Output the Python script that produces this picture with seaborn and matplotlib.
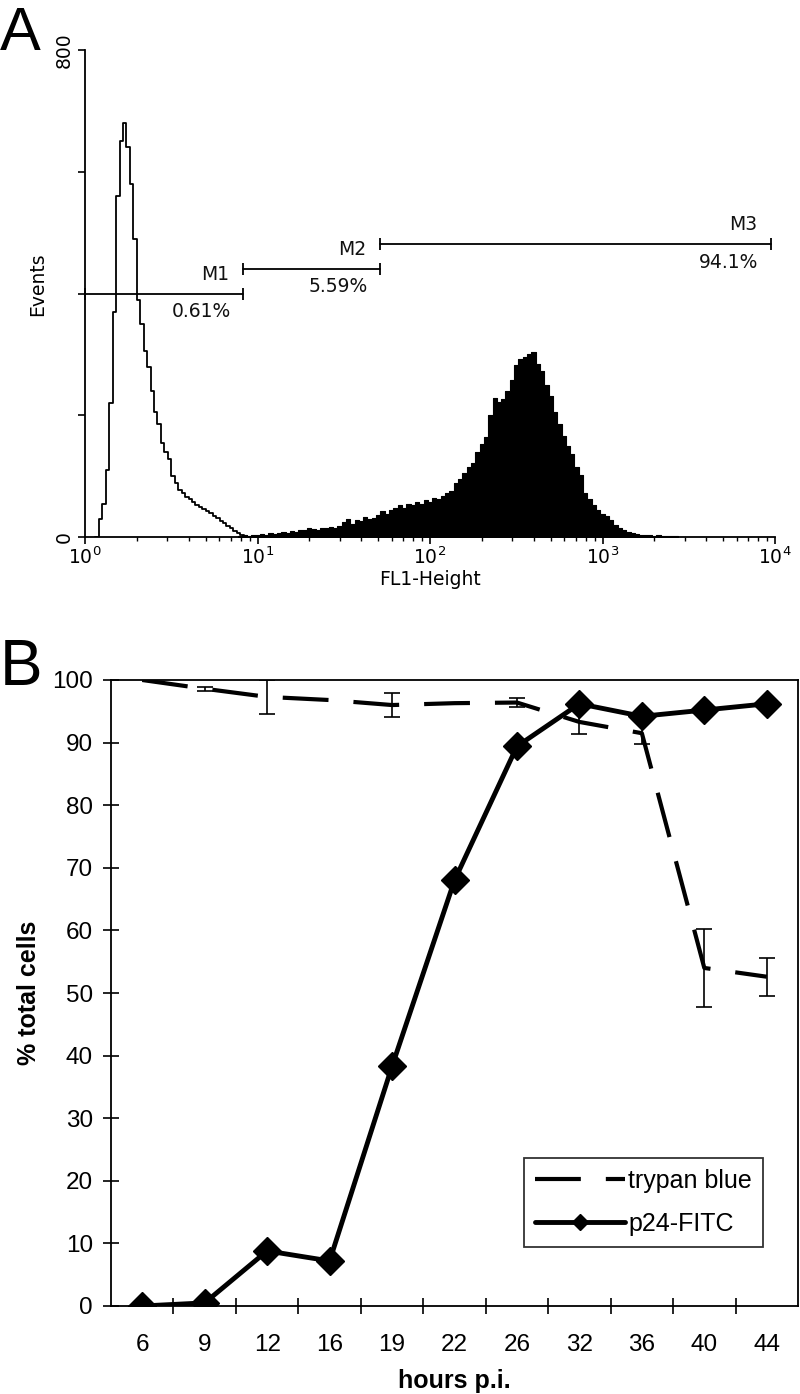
import numpy as np
import pandas as pd
import matplotlib
matplotlib.use("Agg")
import matplotlib.pyplot as plt
from matplotlib.ticker import FixedLocator
import seaborn as sns

# ---------------- Panel A data (FACS histograms) ----------------
# counts per bin on a log10(FL1-Height) channel grid
open_log_start = 0.07
open_log_step = 0.02
open_counts = [0, 30, 55, 110, 220, 370, 560, 650, 680, 640, 580, 490, 390, 350,
               305, 280, 240, 205, 185, 155, 140, 128, 100, 88, 78, 72, 66, 62,
               58, 52, 49, 46, 42, 39, 35, 31, 27, 23, 18, 14, 10, 7, 4, 2]

filled_log_start = 0.90
filled_log_step = 0.025
filled_counts = [2, 3, 2, 4, 3, 5, 4, 6, 5, 7, 8, 7, 10, 9, 12, 11, 14, 13, 12, 15,
                 14, 16, 15, 18, 24, 30, 22, 28, 26, 33, 29, 31, 36, 42, 38, 45, 48,
                 52, 47, 55, 53, 58, 55, 60, 58, 64, 62, 68, 72, 76, 88, 95, 105, 115,
                 122, 140, 152, 165, 200, 228, 222, 226, 240, 258, 282, 292, 296, 300,
                 304, 284, 272, 250, 232, 205, 185, 166, 150, 136, 115, 102, 72, 62,
                 52, 44, 38, 34, 28, 20, 15, 11, 8, 6, 5, 4, 3, 3, 2, 3, 2, 1, 2, 1]

gate_names = ["M1", "M2", "M3"]
gate_pcts = ["0.61%", "5.59%", "94.1%"]
gate_lo = [1.0, 8.25, 51.3]
gate_hi = [8.25, 51.3, 9480.0]
gate_levels = [400, 440, 481]

# ---------------- Panel B data ----------------
hours = ["6", "9", "12", "16", "19", "22", "26", "32", "36", "40", "44"]
trypan_mean = [100.0, 98.6, 97.3, 96.8, 96.0, 96.3, 96.4, 93.3, 91.5, 54.0, 52.6]
trypan_err = [0.0, 0.3, 2.7, 0.0, 1.9, 0.0, 0.7, 1.9, 1.8, 6.3, 3.0]
p24_fitc = [0.0, 0.5, 8.8, 7.2, 38.3, 68.0, 89.4, 96.2, 94.2, 95.2, 96.2]

# ---------------- style ----------------
sns.set_theme(style="ticks")
plt.rcParams["font.family"] = ["Liberation Sans", "DejaVu Sans"]
plt.rcParams["mathtext.fontset"] = "dejavusans"
for key in ["text.color", "axes.labelcolor", "xtick.color", "ytick.color",
            "axes.edgecolor"]:
    plt.rcParams[key] = "black"

FA = ["DejaVu Sans"]   # panel A font (wide screen-style sans)
FSA = 13.5

W, H = 800, 1394
fig = plt.figure(figsize=(W / 100, H / 100), dpi=100)

# ---------------- Panel A ----------------
axA = fig.add_axes([85 / W, 1 - 537 / H, (775 - 85) / W, (537 - 50) / H])

open_centers = open_log_start + open_log_step * np.arange(len(open_counts))
filled_centers = filled_log_start + filled_log_step * np.arange(len(filled_counts))

df_open = pd.DataFrame({"logfl": open_centers, "events": np.asarray(open_counts, float)})
df_filled = pd.DataFrame({"logfl": filled_centers, "events": np.asarray(filled_counts, float)})

sns.histplot(data=df_filled, x="logfl", weights="events", binwidth=filled_log_step,
             binrange=(filled_centers[0] - filled_log_step / 2,
                       filled_centers[-1] + filled_log_step / 2 + 1e-9),
             element="step", fill=True, color="black", alpha=1.0,
             linewidth=0.8, edgecolor="black", ax=axA)
sns.histplot(data=df_open, x="logfl", weights="events", binwidth=open_log_step,
             binrange=(open_centers[0] - open_log_step / 2,
                       open_centers[-1] + open_log_step / 2 + 1e-9),
             element="step", fill=False, color="black", linewidth=1.3, ax=axA)

for name, pct, lo, hi, lvl in zip(gate_names, gate_pcts, gate_lo, gate_hi, gate_levels):
    xs = [np.log10(lo), np.log10(hi)]
    axA.plot(xs, [lvl, lvl], color="black", lw=1.3, marker="|", markersize=8,
             markeredgewidth=1.3, clip_on=False)
    axA.annotate(name, xy=(xs[1], lvl), xytext=(-10, 7), textcoords="offset points",
                 ha="right", va="bottom", fontsize=FSA, family=FA, color="#111111")
    axA.annotate(pct, xy=(xs[1], lvl), xytext=(-9, -6), textcoords="offset points",
                 ha="right", va="top", fontsize=FSA, family=FA, color="#111111")

axA.set_xlim(0, 4)
axA.set_ylim(0, 800)
axA.set_xticks(range(5))
axA.set_xticklabels([r"$\mathregular{10^{%d}}$" % k for k in range(5)],
                    fontsize=FSA, family=FA)
minors = [np.log10(m) + k for k in range(4) for m in range(2, 10)]
axA.xaxis.set_minor_locator(FixedLocator(minors))
axA.set_yticks([0, 200, 400, 600, 800])
axA.set_yticklabels(["0", "", "", "", "800"], fontsize=FSA, family=FA,
                    rotation=90, va="center")
axA.tick_params(axis="x", which="major", length=5, width=1.2, pad=2)
axA.tick_params(axis="x", which="minor", length=3, width=1.0)
axA.tick_params(axis="y", length=5, width=1.2, pad=3)
for s in ["top", "right"]:
    axA.spines[s].set_visible(False)
for s in ["left", "bottom"]:
    axA.spines[s].set_linewidth(1.3)
axA.set_xlabel("FL1-Height", fontsize=FSA, family=FA)
axA.set_ylabel("Events", fontsize=FSA, family=FA)
axA.xaxis.set_label_coords(0.5, -0.068)
axA.xaxis.label.set_va("top")
axA.yaxis.set_label_coords(-0.055, 0.52)

fig.text(0.0, 1 - 50 / H, "A", fontsize=44, ha="left", va="baseline")

# ---------------- Panel B ----------------
FSB = 17.5
axB = fig.add_axes([111 / W, 1 - 1306 / H, (798 - 111) / W, (1306 - 680) / H])
pos = np.arange(len(hours))
df_b = pd.DataFrame({"pos": pos, "trypan": trypan_mean, "err": trypan_err, "p24": p24_fitc})

sns.lineplot(data=df_b, x="pos", y="trypan", ax=axB, color="black", lw=3.0,
             linestyle=(0, (11, 6)), label="trypan blue")
eb = df_b[df_b["err"] > 0]
axB.errorbar(eb["pos"], eb["trypan"], yerr=eb["err"], fmt="none", ecolor="black",
             elinewidth=1.2, capsize=5.5, capthick=1.2, zorder=3)
sns.lineplot(data=df_b, x="pos", y="p24", ax=axB, color="black", lw=3.5, marker="D",
             markersize=14, markeredgecolor="black", markeredgewidth=1,
             label="p24-FITC")

axB.set_xlim(-0.5, len(hours) - 0.5)
axB.set_ylim(0, 100)
axB.set_yticks(range(0, 101, 10))
axB.set_yticklabels([str(v) for v in range(0, 101, 10)], fontsize=FSB)
axB.set_xticks(pos)
axB.set_xticklabels(hours, fontsize=FSB)
axB.xaxis.set_minor_locator(FixedLocator(np.arange(0.5, len(hours) - 1, 1.0)))
axB.tick_params(axis="x", which="major", length=0, pad=20)
axB.tick_params(axis="x", which="minor", direction="inout", length=12, width=1.2)
axB.tick_params(axis="y", direction="inout", length=12, width=1.2, pad=7)
for s in axB.spines.values():
    s.set_linewidth(1.3)
axB.set_xlabel("hours p.i.", fontsize=18, fontweight="bold")
axB.set_ylabel("% total cells", fontsize=18, fontweight="bold")
axB.xaxis.set_label_coords(0.5, -0.100)
axB.xaxis.label.set_va("top")
axB.yaxis.set_label_coords(-0.102, 0.5)

leg = axB.legend(loc="lower right", bbox_to_anchor=(0.949, 0.094), borderaxespad=0,
                 fontsize=18, frameon=True, fancybox=False, handlelength=3.6,
                 markerscale=0.55, borderpad=0.45, labelspacing=0.75, handletextpad=0.1)
leg.get_frame().set_edgecolor("black")
leg.get_frame().set_linewidth(1.3)

fig.text(0.0, 1 - 685 / H, "B", fontsize=46, ha="left", va="baseline")

fig.savefig("out.png", dpi=100)
